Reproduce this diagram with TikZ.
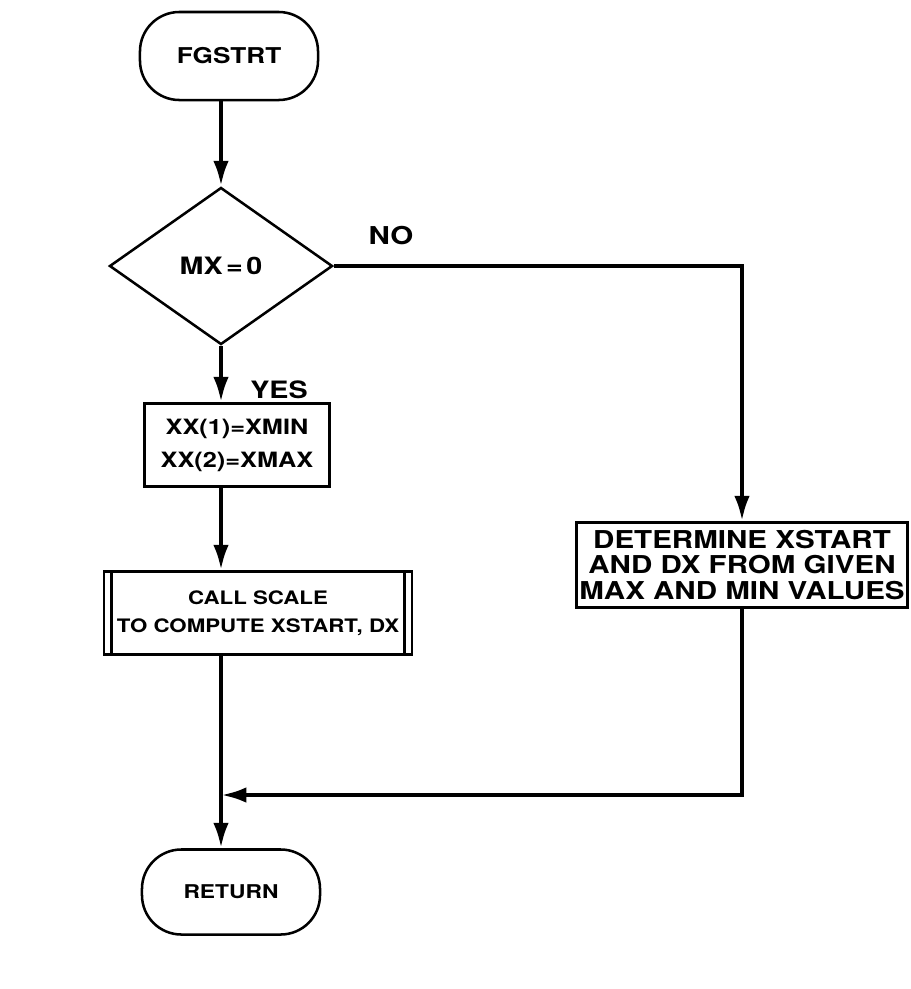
\documentclass[tikz,border=0pt]{standalone}
\usepackage{fontspec}
\setmainfont{TeX Gyre Heros}[FakeStretch=1.2]
\usetikzlibrary{arrows.meta,shapes.geometric,calc}

\begin{document}
\begin{tikzpicture}[x=0.025cm, y=-0.025cm, >={Latex[length=18pt, width=11pt]},
        every node/.style={font=\bfseries\fontsize{16}{23}\selectfont, align=center},
        terminale/.style={draw, line width=1.8pt, rounded corners=28pt, minimum width=4.45cm, minimum height=2.2cm},
        blocco/.style={draw, line width=1.8pt, minimum height=2.075cm, inner sep=2pt},
        linea/.style={line width=3pt}]

        % Cornice
        \useasboundingbox (0,0) rectangle (911,989);

        % Blocchi
        \node[terminale, font=\bfseries\fontsize{15.5}{23}\selectfont] (fgstrt_node) at (229,56) {FGSTRT};
        \node[draw, line width=1.8pt, shape=diamond, aspect=1.4, inner sep=0pt,
              minimum width=5.575cm, minimum height=3.925cm, font=\bfseries\fontsize{17}{23}\selectfont]
              (mx_node) at (221,266) {MX{\kern2.5pt}={\kern2.5pt}0};
        \node[blocco, minimum width=4.625cm, font=\bfseries\fontsize{15}{23.5}\selectfont]
              (xx_node) at (237,445) {XX(1)=XMIN\\XX(2)=XMAX};
        \node[blocco, minimum width=7.7cm, font=\bfseries\fontsize{13.2}{20}\selectfont]
              (scale_node) at (258,613) {CALL SCALE\\TO COMPUTE XSTART, DX};
        \node[blocco, minimum width=8.275cm, minimum height=2.125cm, font=\bfseries\fontsize{17.5}{18}\selectfont]
              (det_node) at (742,565) {DETERMINE XSTART\\AND DX FROM GIVEN\\MAX AND MIN VALUES};
        \node[terminale, minimum height=2.125cm, font=\bfseries\fontsize{13.5}{23}\selectfont]
              (return_node) at (231,892) {RETURN};

        % Linee doppie del sottoprogramma
        \draw[line width=1.8pt] ($(scale_node.north west)+(9,0)$) -- ($(scale_node.south west)+(9,0)$);
        \draw[line width=1.8pt] ($(scale_node.north east)-(9,0)$) -- ($(scale_node.south east)-(9,0)$);

        % Punto di confluenza
        \coordinate (merge) at (221,795);

        % Collegamenti
        \draw[->, linea] (fgstrt_node.south -| mx_node) -- (mx_node.north);
        \draw[->, linea] (mx_node.south) -- (mx_node.south |- xx_node.north)
             node[midway, right=16pt, yshift=-11pt, font=\bfseries\fontsize{17}{20}\selectfont] {YES};
        \draw[->, linea] (mx_node.east) -| (det_node.north)
             node[pos=0.07, above=10pt, font=\bfseries\fontsize{17.5}{20}\selectfont] {NO};
        \draw[->, linea] (xx_node.south -| mx_node) -- (scale_node.north -| mx_node);
        \draw[->, linea] (scale_node.south -| mx_node) -- (return_node.north -| mx_node);
        \draw[->, linea] (det_node.south) |- (merge);

\end{tikzpicture}
\end{document}
